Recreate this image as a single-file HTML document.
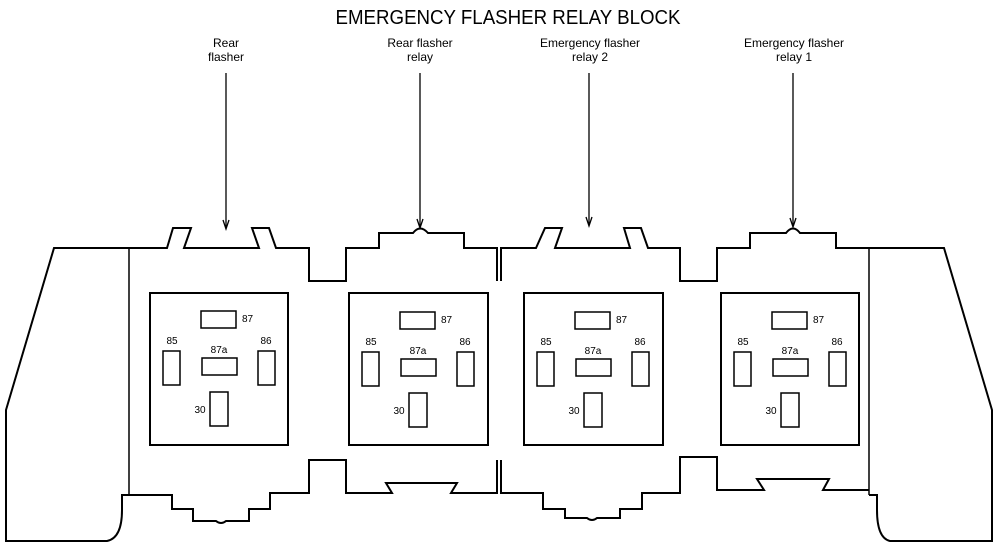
<!DOCTYPE html>
<html><head><meta charset="utf-8"><style>
html,body{margin:0;padding:0;background:#fff;}
svg{display:block;}
text{font-family:"Liberation Sans",sans-serif;fill:#000;}
</style></head><body>
<svg width="998" height="547" viewBox="0 0 998 547" xmlns="http://www.w3.org/2000/svg">
<text x="508" y="24" font-size="20" text-anchor="middle" textLength="345" lengthAdjust="spacingAndGlyphs">EMERGENCY FLASHER RELAY BLOCK</text>
<g font-size="12" text-anchor="middle">
<text x="226" y="47">Rear</text><text x="226" y="61">flasher</text>
<text x="420" y="47">Rear flasher</text><text x="420" y="61">relay</text>
<text x="590" y="47">Emergency flasher</text><text x="590" y="61">relay 2</text>
<text x="794" y="47">Emergency flasher</text><text x="794" y="61">relay 1</text>
</g>
<g stroke="#000" stroke-width="1.3" fill="none">
<line x1="226" y1="73" x2="226" y2="228"/><path d="M223,220 L226,229 L229,220"/>
<line x1="420" y1="73" x2="420" y2="227"/><path d="M417,219 L420,228 L423,219"/>
<line x1="589" y1="73" x2="589" y2="225"/><path d="M586,217 L589,226 L592,217"/>
<line x1="793" y1="73" x2="793" y2="226"/><path d="M790,218 L793,227 L796,218"/>
</g>
<g stroke="#000" stroke-width="2" fill="none" stroke-linejoin="miter">
<!-- left outer -->
<path d="M129,248 L54,248 L6,410 L6,541 L107,541 Q122,538 122,510 L122,495 L129,495"/>
<line x1="129" y1="248" x2="129" y2="495" stroke-width="1.5"/>
<!-- left top edge -->
<path d="M129,248 L167,248 L173,228 L191,228 L184,248 L259,248 L252,228 L269,228 L276,248 L309,248 L309,281 L346,281 L346,248 L379,248 L379,233 L413,233 Q420,224 428,233 L464,233 L464,248 L497,248 L497,281"/>
<!-- left bottom edge -->
<path d="M129,495 L172,495 L172,509 L193,509 L193,521 L216,521 Q221,525 226,521 L249,521 L249,509 L270,509 L270,493 L309,493 L309,460 L346,460 L346,493 L392,493 L386,483 L457,483 L451,493 L497,493 L497,460"/>
<!-- right top edge -->
<path d="M501,281 L501,248 L536,248 L545,228 L562,228 L555,248 L630,248 L624,228 L641,228 L648,248 L680,248 L680,281 L717,281 L717,248 L750,248 L750,233 L786,233 Q793,224 800,233 L836,233 L836,248 L869,248"/>
<!-- right bottom edge -->
<path d="M501,460 L501,493 L543,493 L543,509 L565,509 L565,518 L587,518 Q592,522 597,518 L620,518 L620,509 L642,509 L642,493 L680,493 L680,457 L717,457 L717,490 L764,490 L757,479 L829,479 L823,490 L869,490"/>
<line x1="869" y1="248" x2="869" y2="495" stroke-width="1.5"/>
<!-- right outer -->
<path d="M869,248 L944,248 L992,410 L992,541 L890,541 Q877,538 877,510 L877,495 L869,495"/>
</g>
<g stroke="#000" stroke-width="2" fill="none">
<rect x="150" y="293" width="138" height="152"/>
<rect x="349" y="293" width="139" height="152"/>
<rect x="524" y="293" width="139" height="152"/>
<rect x="721" y="293" width="138" height="152"/>
</g>
<defs>
<g id="pins">
<rect x="51" y="18" width="35" height="17" stroke="#000" stroke-width="1.5" fill="none"/>
<rect x="13" y="58" width="17" height="34" stroke="#000" stroke-width="1.5" fill="none"/>
<rect x="52" y="65" width="35" height="17" stroke="#000" stroke-width="1.5" fill="none"/>
<rect x="108" y="58" width="17" height="34" stroke="#000" stroke-width="1.5" fill="none"/>
<rect x="60" y="99" width="18" height="34" stroke="#000" stroke-width="1.5" fill="none"/>
<g font-size="10">
<text x="92" y="29">87</text>
<text x="22" y="51" text-anchor="middle">85</text>
<text x="69" y="60" text-anchor="middle">87a</text>
<text x="116" y="51" text-anchor="middle">86</text>
<text x="50" y="120" text-anchor="middle">30</text>
</g>
</g>
</defs>
<use href="#pins" x="150" y="293"/>
<use href="#pins" x="349" y="294"/>
<use href="#pins" x="524" y="294"/>
<use href="#pins" x="721" y="294"/>
</svg>
</body></html>
